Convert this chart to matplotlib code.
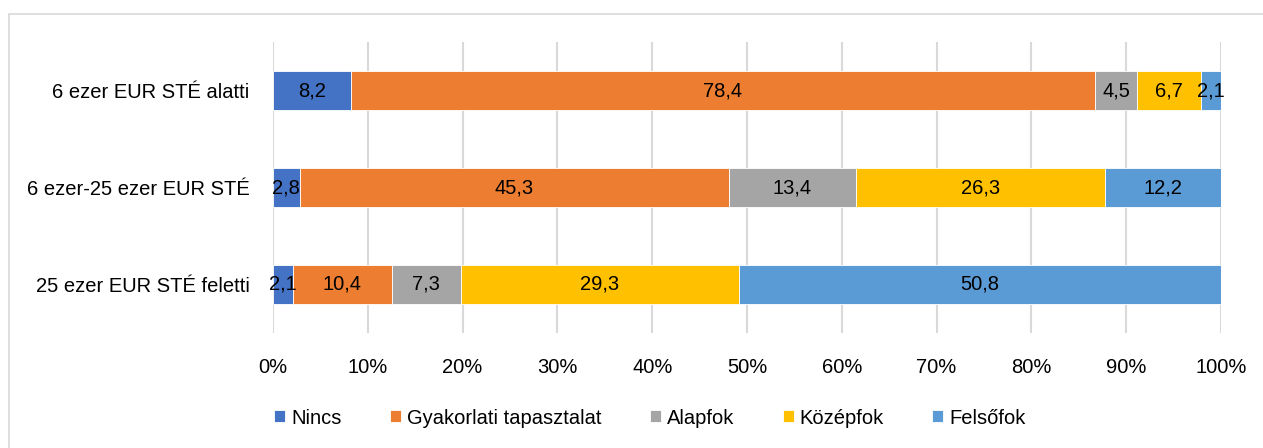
import numpy as np
import matplotlib
matplotlib.use("Agg")
import matplotlib.pyplot as plt
from matplotlib.patches import Rectangle

plt.rcParams["font.family"] = ["Liberation Sans", "DejaVu Sans"]

categories = ["25 ezer EUR STÉ feletti", "6 ezer-25 ezer EUR STÉ",
              "6 ezer EUR STÉ alatti"]
series = ["Nincs", "Gyakorlati tapasztalat", "Alapfok", "Középfok",
          "Felsőfok"]
nincs = [2.1, 2.8, 8.2]
gyakorlati = [10.4, 45.3, 78.4]
alapfok = [7.3, 13.4, 4.5]
kozepfok = [29.3, 26.3, 6.7]
felsofok = [50.8, 12.2, 2.1]
colors = ["#4472C4", "#ED7D31", "#A5A5A5", "#FFC000", "#5B9BD5"]

vals = np.array([nincs, gyakorlati, alapfok, kozepfok, felsofok])
shares = vals / vals.sum(axis=0) * 100

FS = 14.5
fig = plt.figure(figsize=(12.63, 4.48), dpi=100)
ax = fig.add_axes([273 / 1263, 1 - 333 / 448, 948 / 1263, 291 / 448])

# light frame like the source chart area
fig.patches.append(Rectangle((9 / 1263, -0.1), 1.1, 1 - 14 / 448 + 0.1,
                             transform=fig.transFigure, fill=False,
                             edgecolor="#D9D9D9", lw=1.2))

y = np.arange(len(categories))
left = np.zeros(len(categories))
for name, raw, sh, c in zip(series, vals, shares, colors):
    ax.barh(y, sh, left=left, height=0.40, color=c, label=name,
            edgecolor="white", linewidth=0.6, zorder=3)
    for xi, v, s, l in zip(y, raw, sh, left):
        ax.text(l + s / 2, xi, f"{v:.1f}".replace(".", ","), ha="center",
                va="center", fontsize=FS, color="black", zorder=4)
    left += sh

ax.set_xlim(0, 100)
ax.set_ylim(-0.5, 2.5)
ax.set_xticks(np.arange(0, 101, 10))
ax.set_xticklabels([f"{t}%" for t in range(0, 101, 10)], fontsize=FS)
ax.set_yticks(y)
ax.set_yticklabels(categories, fontsize=FS)
ax.tick_params(axis="x", length=0, pad=18)
ax.tick_params(axis="y", length=0, pad=17)
ax.grid(axis="x", color="#D9D9D9", lw=1.5, zorder=0)
for s in ax.spines.values():
    s.set_visible(False)

fig.legend(loc="center", bbox_to_anchor=(650 / 1263, 1 - 418 / 448),
           ncol=5, frameon=False, fontsize=FS, handlelength=0.55,
           handleheight=0.55, handletextpad=0.3, columnspacing=2.4)

fig.savefig("out.png", dpi=100)
